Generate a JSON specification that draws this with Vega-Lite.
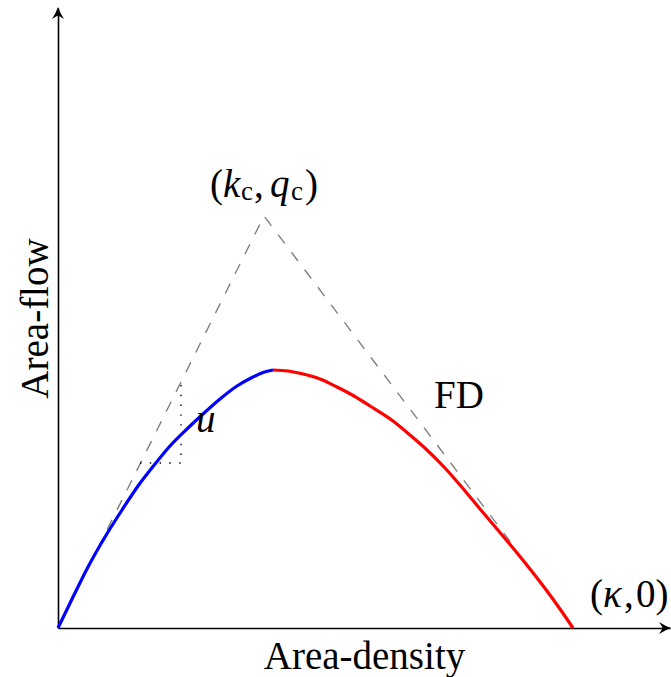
{
  "$schema": "https://vega.github.io/schema/vega-lite/v6.json",
  "width": 612,
  "height": 620,
  "autosize": {"type": "none"},
  "padding": {"left": 58, "top": 8, "right": 1, "bottom": 49},
  "background": "white",
  "config": {"view": {"stroke": null}},
  "datasets": {
    "tangent": [
      {"k": 0, "q": 0},
      {"k": 206, "q": 412},
      {"k": 457, "q": 80}
    ],
    "slope": [
      {"k": 82, "q": 165, "o": 1},
      {"k": 123, "q": 165, "o": 2},
      {"k": 123, "q": 246, "o": 3}
    ],
    "curve": [
      {"k": 0, "q": 0, "branch": "free"},
      {"k": 15, "q": 31, "branch": "free"},
      {"k": 30, "q": 61, "branch": "free"},
      {"k": 47, "q": 91, "branch": "free"},
      {"k": 64, "q": 118, "branch": "free"},
      {"k": 80, "q": 142, "branch": "free"},
      {"k": 97, "q": 164, "branch": "free"},
      {"k": 112, "q": 182, "branch": "free"},
      {"k": 130, "q": 200, "branch": "free"},
      {"k": 145, "q": 214, "branch": "free"},
      {"k": 162, "q": 229, "branch": "free"},
      {"k": 179, "q": 242, "branch": "free"},
      {"k": 195, "q": 251, "branch": "free"},
      {"k": 205, "q": 255.5, "branch": "free"},
      {"k": 215, "q": 258, "branch": "free"},
      {"k": 215, "q": 258, "branch": "congested"},
      {"k": 230, "q": 257, "branch": "congested"},
      {"k": 245, "q": 254, "branch": "congested"},
      {"k": 262, "q": 249, "branch": "congested"},
      {"k": 279, "q": 241, "branch": "congested"},
      {"k": 296, "q": 232, "branch": "congested"},
      {"k": 312, "q": 222, "branch": "congested"},
      {"k": 335, "q": 207, "branch": "congested"},
      {"k": 352, "q": 193, "branch": "congested"},
      {"k": 369, "q": 178, "branch": "congested"},
      {"k": 386, "q": 161, "branch": "congested"},
      {"k": 402, "q": 143, "branch": "congested"},
      {"k": 422, "q": 119, "branch": "congested"},
      {"k": 439, "q": 99, "branch": "congested"},
      {"k": 455, "q": 80, "branch": "congested"},
      {"k": 472, "q": 59, "branch": "congested"},
      {"k": 489, "q": 37, "branch": "congested"},
      {"k": 502, "q": 19, "branch": "congested"},
      {"k": 515, "q": 0, "branch": "congested"}
    ],
    "arrows": [
      {"k": 613, "q": 0, "dir": "right"},
      {"k": 0, "q": 621, "dir": "up"}
    ],
    "upright": [
      {"k": 152, "q": 431, "label": "("},
      {"k": 196, "q": 431, "label": ","},
      {"k": 247, "q": 431, "label": ")"},
      {"k": 376, "q": 220, "label": "FD"},
      {"k": 532, "q": 21, "label": "("},
      {"k": 566, "q": 21, "label": ","},
      {"k": 578, "q": 21, "label": "0)"}
    ],
    "italic": [
      {"k": 165, "q": 431, "label": "k"},
      {"k": 212, "q": 431, "label": "q"},
      {"k": 138, "q": 196, "label": "u"},
      {"k": 545, "q": 21, "label": "κ"}
    ],
    "subscript": [
      {"k": 183, "q": 428, "label": "c"},
      {"k": 233, "q": 428, "label": "c"}
    ]
  },
  "encoding": {
    "x": {
      "field": "k",
      "type": "quantitative",
      "scale": {"domain": [0, 612], "nice": false, "zero": false},
      "axis": {
        "title": "Area-density",
        "domain": true,
        "domainColor": "black",
        "domainWidth": 1.6,
        "ticks": false,
        "labels": false,
        "grid": false,
        "titleFont": "Liberation Serif",
        "titleFontSize": 39,
        "titleFontWeight": "normal",
        "titleColor": "black",
        "titleBaseline": "alphabetic",
        "titleY": 40
      }
    },
    "y": {
      "field": "q",
      "type": "quantitative",
      "scale": {"domain": [0, 620], "nice": false, "zero": false},
      "axis": {
        "title": "Area-flow",
        "domain": true,
        "domainColor": "black",
        "domainWidth": 1.6,
        "ticks": false,
        "labels": false,
        "grid": false,
        "titleFont": "Liberation Serif",
        "titleFontSize": 39,
        "titleFontWeight": "normal",
        "titleColor": "black",
        "titleBaseline": "alphabetic",
        "titleX": -11,
        "titleY": 310
      }
    }
  },
  "layer": [
    {
      "data": {"name": "tangent"},
      "mark": {"type": "line", "color": "#808080", "strokeWidth": 1.4, "strokeDash": [11, 11]}
    },
    {
      "data": {"name": "slope"},
      "mark": {"type": "line", "color": "black", "strokeWidth": 1.4, "strokeDash": [1.4, 8.4]},
      "encoding": {"order": {"field": "o", "type": "quantitative"}}
    },
    {
      "data": {"name": "curve"},
      "mark": {"type": "line", "strokeWidth": 3.2, "interpolate": "monotone"},
      "encoding": {
        "color": {
          "field": "branch",
          "type": "nominal",
          "scale": {"domain": ["free", "congested"], "range": ["#0000ff", "#ff0000"]},
          "legend": null
        }
      }
    },
    {
      "data": {"name": "arrows"},
      "mark": {"type": "point", "filled": true, "color": "black", "opacity": 1, "size": 144, "strokeWidth": 0},
      "encoding": {
        "shape": {
          "field": "dir",
          "type": "nominal",
          "scale": {
            "domain": ["right", "up"],
            "range": [
              "M0,0 Q-0.9,-0.3 -2,-1 Q-1.5,-0.3 -1.4,0 Q-1.5,0.3 -2,1 Q-0.9,0.3 0,0 Z",
              "M0,0 Q-0.3,0.9 -1,2 Q-0.3,1.5 0,1.4 Q0.3,1.5 1,2 Q0.3,0.9 0,0 Z"
            ]
          },
          "legend": null
        }
      }
    },
    {
      "data": {"name": "upright"},
      "mark": {"type": "text", "font": "Liberation Serif", "fontSize": 39, "align": "left", "baseline": "alphabetic", "color": "black"},
      "encoding": {"text": {"field": "label"}}
    },
    {
      "data": {"name": "italic"},
      "mark": {"type": "text", "font": "Liberation Serif", "fontSize": 39, "fontStyle": "italic", "align": "left", "baseline": "alphabetic", "color": "black"},
      "encoding": {"text": {"field": "label"}}
    },
    {
      "data": {"name": "subscript"},
      "mark": {"type": "text", "font": "Liberation Serif", "fontSize": 27, "align": "left", "baseline": "alphabetic", "color": "black"},
      "encoding": {"text": {"field": "label"}}
    }
  ]
}
